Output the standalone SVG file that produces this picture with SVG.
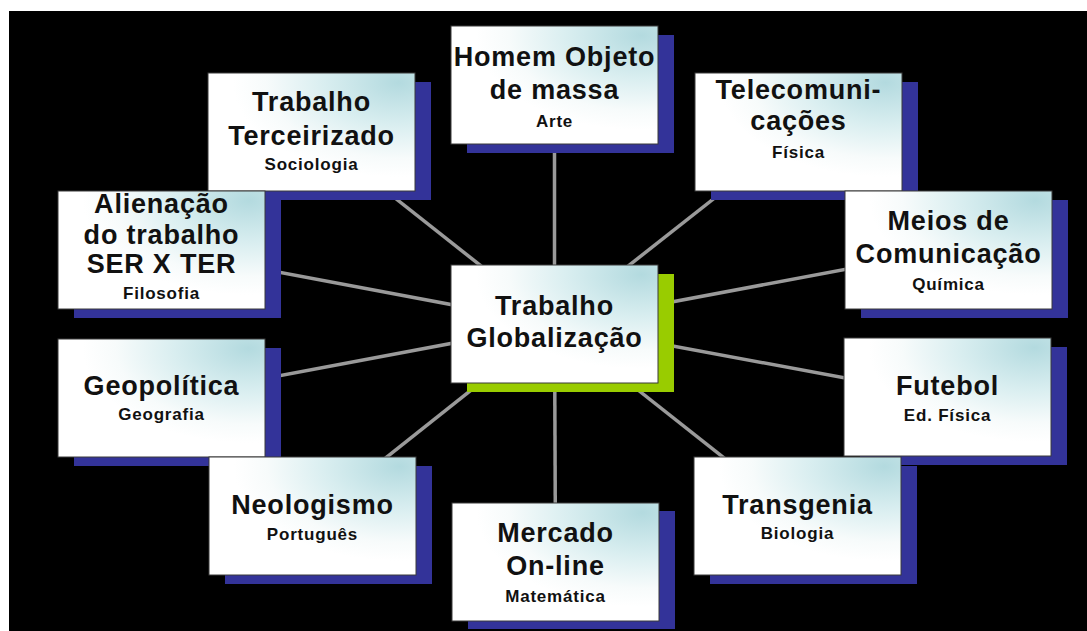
<svg xmlns="http://www.w3.org/2000/svg" width="1087" height="631" viewBox="0 0 1087 631">
<defs>
<radialGradient id="g" cx="0.92" cy="0.08" r="0.8" fx="0.92" fy="0.08">
<stop offset="0" stop-color="#b3dadf"/>
<stop offset="0.45" stop-color="#d9eef0"/>
<stop offset="0.8" stop-color="#f7fbfb"/>
<stop offset="1" stop-color="#ffffff"/>
</radialGradient>
<style>
.box{fill:url(#g);stroke:#3a3a3a;stroke-width:1}
.sh{fill:#333399}
.shg{fill:#99cc00}
.t{font-family:"Liberation Sans",Arial,sans-serif;font-weight:bold;font-size:27px;letter-spacing:0.8px;fill:#111;text-anchor:middle}
.s{font-family:"Liberation Sans",Arial,sans-serif;font-weight:bold;font-size:17px;letter-spacing:0.8px;fill:#111;text-anchor:middle}
.ln{stroke:#9a9a9a;stroke-width:3.5;fill:none}
</style>
</defs>
<rect x="0" y="0" width="1087" height="631" fill="#ffffff"/>
<rect x="9" y="11" width="1078" height="620" fill="#000000"/>
<g id="connectors">
<line class="ln" x1="554.5" y1="324" x2="554.5" y2="85"/>
<line class="ln" x1="554.5" y1="324" x2="311.5" y2="132"/>
<line class="ln" x1="554.5" y1="324" x2="798.5" y2="132"/>
<line class="ln" x1="554.5" y1="324" x2="161.5" y2="250"/>
<line class="ln" x1="554.5" y1="324" x2="948.5" y2="250"/>
<line class="ln" x1="554.5" y1="324" x2="161.5" y2="398"/>
<line class="ln" x1="554.5" y1="324" x2="947.5" y2="397"/>
<line class="ln" x1="554.5" y1="324" x2="312.5" y2="516"/>
<line class="ln" x1="554.5" y1="324" x2="797.5" y2="516"/>
<line class="ln" x1="554.5" y1="324" x2="555.5" y2="562"/>
</g>
<g id="homem">
<rect class="sh" x="467" y="35" width="207" height="118"/>
<rect class="box" x="451" y="26" width="207" height="118"/>
<text class="t" x="554.5" y="66">Homem Objeto</text>
<text class="t" x="554.5" y="99">de massa</text>
<text class="s" x="554.5" y="127">Arte</text>
</g>
<g id="terceirizado">
<rect class="sh" x="224" y="82" width="207" height="118"/>
<rect class="box" x="208" y="73" width="207" height="118"/>
<text class="t" x="311.5" y="111">Trabalho</text>
<text class="t" x="311.5" y="145">Terceirizado</text>
<text class="s" x="311.5" y="170">Sociologia</text>
</g>
<g id="telecom">
<rect class="sh" x="711" y="82" width="207" height="118"/>
<rect class="box" x="695" y="73" width="207" height="118"/>
<text class="t" x="798.5" y="99">Telecomuni-</text>
<text class="t" x="798.5" y="130">cações</text>
<text class="s" x="798.5" y="158">Física</text>
</g>
<g id="alienacao">
<rect class="sh" x="74" y="200" width="207" height="118"/>
<rect class="box" x="58" y="191" width="207" height="118"/>
<text class="t" x="161.5" y="213">Alienação</text>
<text class="t" x="161.5" y="244">do trabalho</text>
<text class="t" x="161.5" y="273">SER X TER</text>
<text class="s" x="161.5" y="299">Filosofia</text>
</g>
<g id="meios">
<rect class="sh" x="861" y="200" width="207" height="118"/>
<rect class="box" x="845" y="191" width="207" height="118"/>
<text class="t" x="948.5" y="230">Meios de</text>
<text class="t" x="948.5" y="263">Comunicação</text>
<text class="s" x="948.5" y="290">Química</text>
</g>
<g id="centro">
<rect class="shg" x="467" y="274" width="207" height="118"/>
<rect class="box" x="451" y="265" width="207" height="118"/>
<text class="t" x="554.5" y="315">Trabalho</text>
<text class="t" x="554.5" y="347">Globalização</text>
</g>
<g id="geopolitica">
<rect class="sh" x="74" y="348" width="207" height="118"/>
<rect class="box" x="58" y="339" width="207" height="118"/>
<text class="t" x="161.5" y="395">Geopolítica</text>
<text class="s" x="161.5" y="420">Geografia</text>
</g>
<g id="futebol">
<rect class="sh" x="860" y="347" width="207" height="118"/>
<rect class="box" x="844" y="338" width="207" height="118"/>
<text class="t" x="947.5" y="395">Futebol</text>
<text class="s" x="947.5" y="421">Ed. Física</text>
</g>
<g id="neologismo">
<rect class="sh" x="225" y="466" width="207" height="118"/>
<rect class="box" x="209" y="457" width="207" height="118"/>
<text class="t" x="312.5" y="514">Neologismo</text>
<text class="s" x="312.5" y="540">Português</text>
</g>
<g id="transgenia">
<rect class="sh" x="710" y="466" width="207" height="118"/>
<rect class="box" x="694" y="457" width="207" height="118"/>
<text class="t" x="797.5" y="514">Transgenia</text>
<text class="s" x="797.5" y="539">Biologia</text>
</g>
<g id="mercado">
<rect class="sh" x="468" y="511" width="207" height="118"/>
<rect class="box" x="452" y="503" width="207" height="118"/>
<text class="t" x="555.5" y="542">Mercado</text>
<text class="t" x="555.5" y="575">On-line</text>
<text class="s" x="555.5" y="602">Matemática</text>
</g>
</svg>
